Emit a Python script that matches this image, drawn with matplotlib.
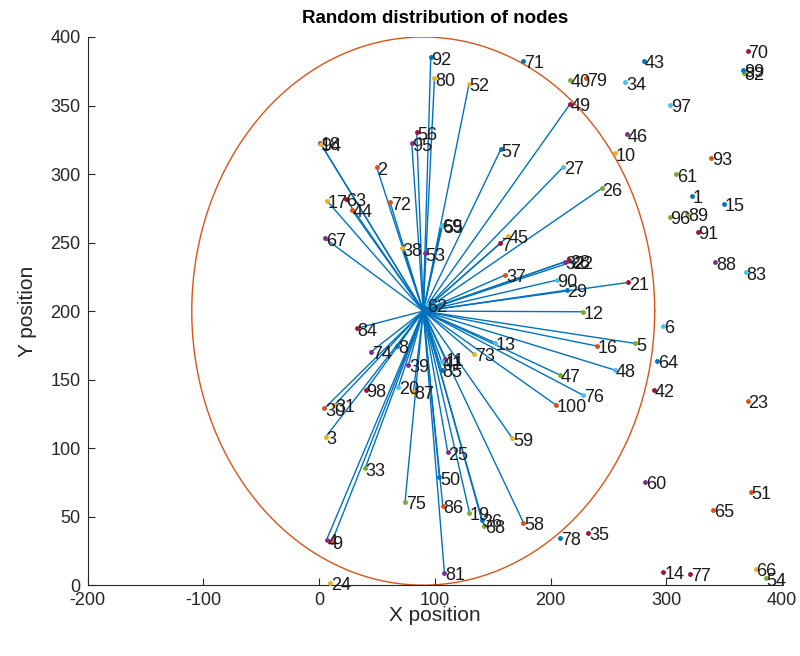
import matplotlib
matplotlib.use("Agg")
import matplotlib.pyplot as plt
import numpy as np

plt.rcParams["font.family"] = ["Liberation Sans", "DejaVu Sans"]
plt.rcParams["axes.unicode_minus"] = False

# node positions, node i is at index i-1
node_x = [322, 49.8, 5.8, 6.6, 273.1, 297.6, 156.4, 67.4, 11, 255.8,
          109, 227.9, 152.1, 297.6, 350, 240, 6.8, 0.9, 129.9, 68.5,
          267.3, 219, 370.5, 9.5, 111.2, 244.3, 211.2, 216, 214, 4.6,
          13.2, 212.6, 39.8, 264.5, 232.8, 140.6, 160.8, 71.5, 77.2, 216.9,
          106, 289.5, 280.9, 28.5, 163.6, 266, 208.3, 255.8, 216.9, 104,
          373.1, 129.6, 91.6, 386, 106.5, 84.4, 157, 176.6, 167.1, 281.8,
          308.6, 93, 23, 292.4, 340.8, 377.4, 5.2, 142.6, 106, 370.5,
          176.6, 61.4, 134, 44.9, 74.3, 228, 320.6, 208.3, 230.8, 99.7,
          108.3, 367, 368.8, 32.6, 106, 106.9, 81.5, 342.3, 318, 205.4,
          327, 96.5, 338.8, 1.5, 80.1, 303, 303.4, 40.4, 366.7, 204.8]
node_y = [284, 304.9, 108.3, 33.3, 176.4, 189, 249.4, 174.5, 31.6, 315.1,
          165, 199.5, 176.9, 9.7, 278.1, 174.5, 280.5, 322.8, 53, 144.7,
          220.9, 236, 134.3, 1.7, 96.9, 289.6, 305.3, 237, 215.3, 129,
          131.4, 236, 85.2, 366.9, 38.2, 47.4, 226.3, 245.8, 160.6, 368.6,
          163, 142.3, 382.5, 273.7, 254.7, 329, 153.3, 156.9, 351.1, 78.6,
          68.1, 365.7, 242.1, 4.9, 262, 330.4, 318, 45.5, 107.1, 75.4,
          299.8, 205, 282, 163.7, 54.7, 11.7, 253, 43.1, 263, 390,
          382.7, 279.3, 168.6, 170.3, 60.8, 138.7, 8.5, 34.5, 369.8, 369.8,
          9, 374, 228.2, 187.4, 156.9, 57.7, 141.1, 235.5, 271, 222.6,
          257.9, 385.2, 311.9, 322, 322.4, 269, 350.4, 142.3, 376, 131.4]

sink_x = 90
sink_y = 200
radius = 200

colors = [(0, 0.447, 0.741), (0.85, 0.325, 0.098), (0.929, 0.694, 0.125),
          (0.494, 0.184, 0.556), (0.466, 0.674, 0.188), (0.301, 0.745, 0.933),
          (0.635, 0.078, 0.184)]

fig = plt.figure(figsize=(8, 6.56), dpi=100)
ax = fig.add_axes([0.1095, 0.108, 0.868, 0.8356])

xs = np.array(node_x)
ys = np.array(node_y)
dist = np.hypot(xs - sink_x, ys - sink_y)

# links from the sink to every node inside the radius
for i in range(len(xs)):
    if dist[i] < radius:
        ax.plot([sink_x, xs[i]], [sink_y, ys[i]], color=colors[0], lw=1.0, zorder=2)

t = np.linspace(0, 2 * np.pi, 400)
ax.plot(sink_x + radius * np.cos(t), sink_y + radius * np.sin(t),
        color=colors[1], lw=1.0, zorder=1)

for i in range(len(xs)):
    ax.plot(xs[i], ys[i], ".", color=colors[i % 7], ms=5, zorder=3)
    ax.annotate(str(i + 1), (xs[i], ys[i]), xytext=(0.5, -2),
                textcoords="offset points", va="center", ha="left",
                fontsize=13, color=(0.1, 0.1, 0.1), zorder=4)

ax.set_xlim(-200, 400)
ax.set_ylim(0, 400)
ax.set_xticks(range(-200, 401, 100))
ax.set_yticks(range(0, 401, 50))
ax.spines["top"].set_visible(False)
ax.spines["right"].set_visible(False)
for s in ["left", "bottom"]:
    ax.spines[s].set_color((0.15, 0.15, 0.15))
ax.tick_params(direction="in", length=5, labelsize=13,
               colors=(0.15, 0.15, 0.15), pad=5)
ax.set_xlabel("X position", fontsize=15, color=(0.15, 0.15, 0.15), labelpad=-2)
ax.set_ylabel("Y position", fontsize=15, color=(0.15, 0.15, 0.15), labelpad=10)
ax.set_title("Random distribution of nodes", fontsize=13.5, fontweight="bold", pad=10)

fig.savefig("out.png", dpi=100)
